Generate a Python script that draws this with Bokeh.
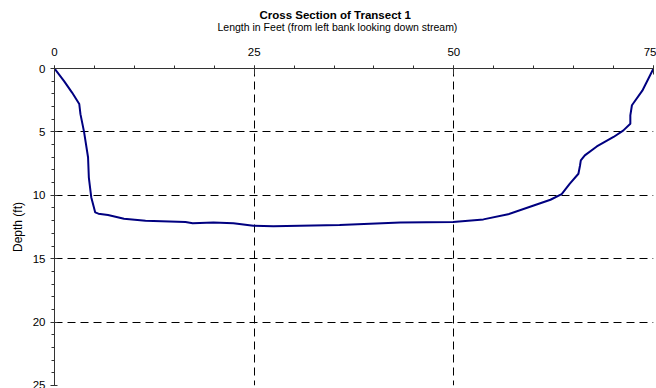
from bokeh.plotting import figure
from bokeh.models import Range1d, FixedTicker, Title
from bokeh.embed import file_html
from bokeh.resources import INLINE

# Cross-section profile: distance from left bank (ft) and depth (ft)
distance = [0, 1.2, 2.2, 3.1, 3.25, 3.7, 4.2, 4.3, 4.6, 5.1, 5.5, 6.7, 8.7, 11.4,
            16.4, 17.3, 19.9, 22.4, 24.9, 27.4, 35.7, 43.3, 49.9, 53.7, 56.8,
            60.0, 62.1, 63.5, 64.5, 65.6, 65.8, 65.9, 66.4, 67.9, 70.0, 71.2,
            72.1, 72.1, 72.3, 73.6, 75.0]
depth = [0, 1.0, 1.9, 2.8, 3.6, 5.0, 7.0, 8.6, 10.15, 11.35, 11.45, 11.55, 11.85,
         12.0, 12.1, 12.2, 12.15, 12.2, 12.4, 12.45, 12.35, 12.15, 12.1, 11.9,
         11.5, 10.8, 10.35, 9.9, 9.1, 8.3, 7.65, 7.25, 6.85, 6.15, 5.4, 4.9,
         4.35, 3.7, 2.9, 1.75, 0]

x_major = [0, 25, 50, 75]
x_minor = list(range(0, 76, 5))
y_major = [0, 5, 10, 15, 20, 25]
y_minor = list(range(0, 26, 1))
x_grid = [25, 50, 75]
y_grid = [5, 10, 15, 20]

title_text = "Cross Section of Transect 1"
subtitle_text = "Length in Feet (from left bank looking down stream)"

FONT = "Liberation Sans"
AXIS_COLOR = "#333333"

p = figure(width=656, height=388, output_backend="svg", toolbar_location=None,
           x_range=Range1d(0, 75), y_range=Range1d(25, 0),
           x_axis_location="above", y_axis_location="left",
           min_border_left=54, min_border_right=3, min_border_top=68,
           min_border_bottom=3)
p.outline_line_color = None
p.background_fill_color = "white"
p.border_fill_color = "white"

p.line(distance, depth, line_color="#000080", line_width=2)

xa = p.xaxis[0]
xa.ticker = FixedTicker(ticks=x_major, minor_ticks=x_minor)
xa.major_tick_in = 6
xa.major_tick_out = 3
xa.minor_tick_in = 0
xa.minor_tick_out = 3
xa.axis_line_color = AXIS_COLOR
xa.major_tick_line_color = AXIS_COLOR
xa.minor_tick_line_color = AXIS_COLOR
xa.major_label_text_font = FONT
xa.major_label_text_font_size = "11.5px"
xa.major_label_text_color = "black"
xa.major_label_standoff = 10

ya = p.yaxis[0]
ya.ticker = FixedTicker(ticks=y_major, minor_ticks=y_minor)
ya.major_tick_in = 3
ya.major_tick_out = 4
ya.minor_tick_in = 0
ya.minor_tick_out = 3
ya.axis_line_color = AXIS_COLOR
ya.major_tick_line_color = AXIS_COLOR
ya.minor_tick_line_color = AXIS_COLOR
ya.major_label_text_font = FONT
ya.major_label_text_font_size = "11.5px"
ya.major_label_text_color = "black"
ya.major_label_standoff = 5
ya.axis_label = "Depth (ft)"
ya.axis_label_text_font = FONT
ya.axis_label_text_font_size = "12px"
ya.axis_label_text_font_style = "normal"
ya.axis_label_text_color = "black"
ya.axis_label_standoff = 5

p.xgrid.ticker = FixedTicker(ticks=x_grid)
p.ygrid.ticker = FixedTicker(ticks=y_grid)
for g in (p.xgrid, p.ygrid):
    g.grid_line_color = "black"
    g.grid_line_dash = "8 5"
    g.grid_line_width = 1

# blank spacer between the subtitle and the top axis labels
spacer = Title(text=" ", align="left", text_font=FONT, text_font_size="4px",
               standoff=3)
sub = Title(text=subtitle_text, align="left", offset=163, vertical_align="top",
            text_font=FONT, text_font_size="10.5px", text_font_style="normal",
            text_color="black", standoff=0)
main = Title(text=title_text, align="left", offset=205, vertical_align="bottom",
             text_font=FONT, text_font_size="11.5px", text_font_style="bold",
             text_color="black", standoff=0)
p.add_layout(spacer, "above")
p.add_layout(sub, "above")
p.add_layout(main, "above")

open("out.html", "w").write(file_html(p, INLINE))
